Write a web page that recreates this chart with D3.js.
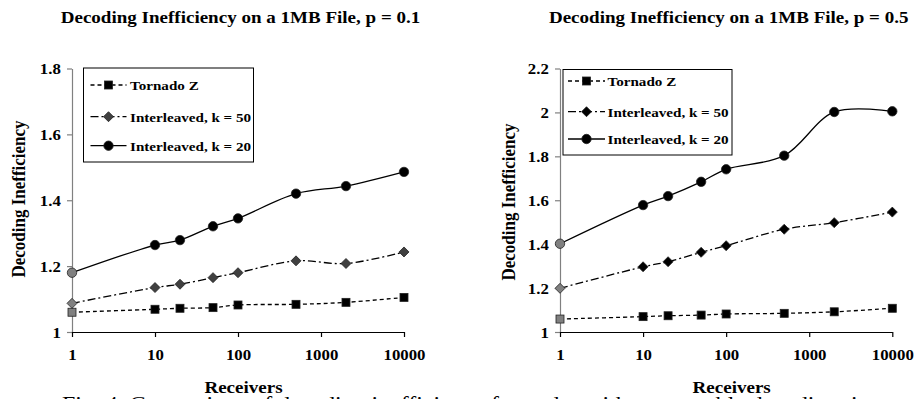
<!DOCTYPE html>
<html>
<head>
<meta charset="utf-8">
<script src="https://cdn.jsdelivr.net/npm/d3@7"></script>
<style>
  html, body { margin: 0; padding: 0; background: #fff; overflow: hidden; }
  svg { display: block; }
  text { font-family: "Liberation Serif", "Times New Roman", Times, serif; fill: #000; }
</style>
</head>
<body>
<script>
// ---------- data ----------
const receivers = [1, 10, 20, 50, 100, 500, 2000, 10000];
const seriesNames = ["Tornado Z", "Interleaved, k = 50", "Interleaved, k = 20"];

const tornadoP1 = [1.060, 1.069, 1.072, 1.074, 1.082, 1.084, 1.090, 1.105];
const k50P1     = [1.087, 1.135, 1.145, 1.165, 1.180, 1.216, 1.208, 1.243];
const k20P1     = [1.180, 1.264, 1.279, 1.321, 1.345, 1.420, 1.443, 1.486];

const tornadoP5 = [1.059, 1.070, 1.074, 1.077, 1.082, 1.085, 1.092, 1.108];
const k50P5     = [1.199, 1.297, 1.320, 1.363, 1.393, 1.468, 1.498, 1.546];
const k20P5     = [1.402, 1.578, 1.619, 1.684, 1.741, 1.803, 2.002, 2.005];

const xTicks   = [1, 10, 100, 1000, 10000];
const yTicksP1 = [1, 1.2, 1.4, 1.6, 1.8];
const yTicksP5 = [1, 1.2, 1.4, 1.6, 1.8, 2, 2.2];
const titles = ["Decoding Inefficiency on a 1MB File, p = 0.1",
                "Decoding Inefficiency on a 1MB File, p = 0.5"];
const xTitle = "Receivers";
const yTitle = "Decoding Inefficiency";
const caption = "Fig. 4. Comparison of decoding inefficiency for codes with comparable decoding times.";

// ---------- setup ----------
const W = 915, H = 399, SX = 1.12;
const FONT = '"Liberation Serif", "Times New Roman", Times, serif';
const svg = d3.select("body").append("svg").attr("width", W).attr("height", H);

function addText(g, x, y, str, size, anchor, weight) {
  return g.append("text")
    .attr("transform", `translate(${x},${y}) scale(${SX},1)`)
    .attr("text-anchor", anchor || "start")
    .style("font-family", FONT)
    .style("font-size", size + "px")
    .style("font-weight", weight || "bold")
    .text(str);
}

const styles = [
  { dash: "4,3",       marker: "square",  fill: "#000" },
  { dash: "8,3,2,3",   marker: "diamond", fill: null },
  { dash: null,        marker: "circle",  fill: "#000" }
];

function drawMarker(g, type, cx, cy, fill) {
  if (type === "square") {
    g.append("rect").attr("x", cx - 4).attr("y", cy - 4).attr("width", 8).attr("height", 8)
      .attr("fill", fill).attr("stroke", "#222").attr("stroke-width", 0.8);
  } else if (type === "diamond") {
    g.append("path").attr("d", `M${cx},${cy - 5}L${cx + 5},${cy}L${cx},${cy + 5}L${cx - 5},${cy}Z`)
      .attr("fill", fill).attr("stroke", "#222").attr("stroke-width", 0.8);
  } else {
    g.append("circle").attr("cx", cx).attr("cy", cy).attr("r", 4.7)
      .attr("fill", fill).attr("stroke", "#222").attr("stroke-width", 0.8);
  }
}

function chart(cfg) {
  const g = svg.append("g");
  const x = d3.scaleLog().domain([1, 10000]).range([cfg.x0, cfg.x1]);
  const y = d3.scaleLinear().domain([1, cfg.yMax]).range([332, 68.5]);

  // title
  addText(g, cfg.titleX, 22.5, cfg.title, 17, "middle");

  // y axis
  const ya = g.append("g").attr("transform", `translate(${cfg.x0},0)`)
    .call(d3.axisLeft(y).tickValues(cfg.yTicks).tickSize(5).tickSizeOuter(0)
      .tickPadding(0).tickFormat(d => String(d)));
  ya.select(".domain").attr("stroke", "#808080").attr("stroke-width", 1.2);
  ya.selectAll(".tick line").attr("stroke", "#808080").attr("stroke-width", 1.2);
  ya.selectAll(".tick text").attr("x", -10).attr("dy", "0.36em")
    .style("font-size", "15px").style("font-weight", "bold")
    .style("font-family", FONT).attr("fill", "#000")
    .attr("transform", `scale(${SX},1)`);

  // x axis
  const xa = g.append("g").attr("transform", `translate(0,332)`)
    .call(d3.axisBottom(x).tickValues(xTicks).tickSize(5).tickSizeOuter(0)
      .tickPadding(0).tickFormat(d => String(d)));
  xa.select(".domain").attr("stroke", "#000").attr("stroke-width", 1.2);
  xa.selectAll(".tick line").attr("stroke", "#000").attr("stroke-width", 1.2);
  xa.selectAll(".tick text").attr("y", 28).attr("dy", 0)
    .style("font-size", "15px").style("font-weight", "bold")
    .style("font-family", FONT).attr("fill", "#000")
    .attr("transform", `scale(${SX},1)`);

  // axis titles
  addText(g, cfg.xTitleX, 392.5, xTitle, 17, "middle");
  g.append("text")
    .attr("transform", `translate(${cfg.yTitleX},${cfg.yTitleY}) rotate(-90) scale(1,${SX})`)
    .attr("text-anchor", "middle").style("font-family", FONT)
    .style("font-size", "17px").style("font-weight", "bold")
    .text(yTitle);

  // series
  const line = d3.line().x(d => x(d[0])).y(d => y(d[1])).curve(d3.curveCatmullRom);
  cfg.series.forEach((vals, i) => {
    const st = styles[i];
    const pts = receivers.map((r, j) => [r, vals[j]]);
    g.append("path").attr("d", line(pts)).attr("fill", "none")
      .attr("stroke", "#000").attr("stroke-width", 1.3)
      .attr("stroke-dasharray", st.dash);
    pts.forEach((p, j) => {
      const fill = j === 0 ? "#808080" : (st.fill || cfg.diamondFill);
      drawMarker(g, st.marker, x(p[0]), y(p[1]), fill);
    });
  });

  // legend
  const L = cfg.legend;
  g.append("rect").attr("x", L.x).attr("y", L.y).attr("width", L.w).attr("height", L.h)
    .attr("fill", "#fff").attr("stroke", "#000").attr("stroke-width", 1);
  seriesNames.forEach((name, i) => {
    const st = styles[i];
    const ry = L.rows[i];
    g.append("line").attr("x1", L.lx0).attr("x2", L.lx1).attr("y1", ry).attr("y2", ry)
      .attr("stroke", "#000").attr("stroke-width", 1.3).attr("stroke-dasharray", st.dash);
    drawMarker(g, st.marker, (L.lx0 + L.lx1) / 2, ry, st.fill || cfg.diamondFill);
    addText(g, L.tx, ry + 4.8, name, 13.5, "start");
  });
}

chart({
  x0: 72, x1: 404, yMax: 1.8, yTicks: yTicksP1, title: titles[0], titleX: 240.5,
  xTitleX: 243.5, yTitleX: 25, yTitleY: 199, diamondFill: "#404040",
  series: [tornadoP1, k50P1, k20P1],
  legend: { x: 83.5, y: 68, w: 170, h: 94, rows: [85, 116.7, 145.7], lx0: 90.5, lx1: 126.5, tx: 130 }
});
chart({
  x0: 560, x1: 892.3, yMax: 2.2, yTicks: yTicksP5, title: titles[1], titleX: 728.7,
  xTitleX: 731.7, yTitleX: 514.5, yTitleY: 202, diamondFill: "#000",
  series: [tornadoP5, k50P5, k20P5],
  legend: { x: 563, y: 69.5, w: 169, h: 85.5, rows: [81, 111.7, 139], lx0: 568, lx1: 605, tx: 607.5 }
});

// caption (cut off at the bottom edge, as in the reference)
svg.append("text").attr("x", 62).attr("y", 410.5)
  .attr("textLength", 840).attr("lengthAdjust", "spacingAndGlyphs")
  .style("font-family", FONT)
  .style("font-size", "20px").style("font-weight", "normal")
  .text(caption);
</script>
</body>
</html>
